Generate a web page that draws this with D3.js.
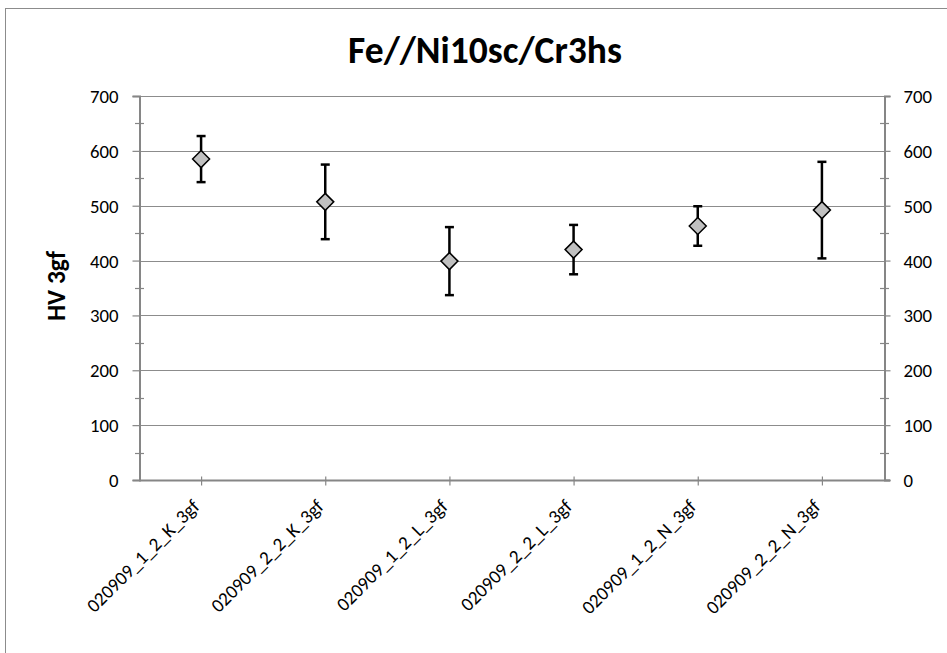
<!DOCTYPE html>
<html>
<head>
<meta charset="utf-8">
<script src="https://cdn.jsdelivr.net/npm/d3@7"></script>
<style>
  html, body { margin: 0; padding: 0; background: #fff; }
  svg { display: block; }
  text { font-family: Carlito, Calibri, Lato, "Open Sans", sans-serif; fill: #000; }
</style>
</head>
<body>
<svg id="chart" width="947" height="653"></svg>
<script>
// Hardness measurements (HV 3gf) per sample
const categories = [
  "020909_1_2_K_3gf", "020909_2_2_K_3gf", "020909_1_2_L_3gf",
  "020909_2_2_L_3gf", "020909_1_2_N_3gf", "020909_2_2_N_3gf"
];
const hardness = [585, 507, 399, 420, 463, 492];
const deviation = [42, 68, 62, 45, 36, 88];
const yTicks = [0, 100, 200, 300, 400, 500, 600, 700];
const title = "Fe//Ni10sc/Cr3hs";
const yTitle = "HV 3gf";

const svg = d3.select("#chart");
const plotL = 139, plotR = 884, plotT = 96, plotB = 480;

// font size at which a sample string spans the wanted length
function sizeFor(str, weight, len) {
  const probe = svg.append("text").attr("font-size", 20).attr("font-weight", weight).text(str);
  const w = probe.node().getComputedTextLength();
  probe.remove();
  return +(20 * len / w).toFixed(2);
}
const tickFont = sizeFor("700", "normal", 28.5);
const catFont = sizeFor("020909_2_2_K_3gf", "normal", 150);

// chart frame
svg.append("rect")
  .attr("x", 5.5).attr("y", 8.5).attr("width", 960).attr("height", 700)
  .attr("fill", "none").attr("stroke", "#8c8c8c").attr("stroke-width", 1);

const x = d3.scalePoint().domain(categories).range([plotL, plotR]).padding(0.5);
const y = d3.scaleLinear().domain([0, 700]).range([plotB, plotT]);

// horizontal gridlines
svg.append("g").selectAll("line").data(yTicks.filter(d => d > 0)).join("line")
  .attr("x1", plotL).attr("x2", plotR)
  .attr("y1", d => Math.round(y(d)) + 0.5).attr("y2", d => Math.round(y(d)) + 0.5)
  .attr("stroke", "#8c8c8c").attr("stroke-width", 1);

const axisColor = "#868686";

// left axis
const yl = svg.append("g").attr("transform", `translate(${plotL + 0.5},0)`)
  .call(d3.axisLeft(y).tickValues(yTicks).tickSize(7).tickPadding(14));
// right axis
const yr = svg.append("g").attr("transform", `translate(${plotR + 0.5},0)`)
  .call(d3.axisRight(y).tickValues(yTicks).tickSize(6).tickPadding(13));
[yl, yr].forEach(g => {
  g.attr("font-family", null);
  g.select(".domain").attr("stroke", axisColor).attr("stroke-width", 2);
  g.selectAll(".tick line").attr("stroke", axisColor).attr("stroke-width", 1.2);
  g.selectAll(".tick text").attr("font-size", tickFont).attr("dy", "0.35em");
});

// minor ticks at the half steps
const minor = d3.range(50, 700, 100);
[plotL, plotR].forEach(ax => {
  svg.append("g").selectAll("line").data(minor).join("line")
    .attr("x1", ax - 4).attr("x2", ax + 5)
    .attr("y1", d => Math.round(y(d)) + 0.5).attr("y2", d => Math.round(y(d)) + 0.5)
    .attr("stroke", axisColor).attr("stroke-width", 1.2);
});

// bottom axis
const xa = svg.append("g").attr("transform", `translate(0,${plotB + 0.5})`)
  .call(d3.axisBottom(x).tickSize(5).tickSizeOuter(0));
xa.attr("font-family", null);
xa.select(".domain").attr("stroke", axisColor).attr("stroke-width", 2)
  .attr("d", `M${plotL},0H${plotR + 6}`);
xa.selectAll(".tick line").attr("stroke", axisColor).attr("stroke-width", 1.2)
  .attr("y1", -4).attr("y2", 5);
xa.selectAll(".tick text")
  .attr("font-size", catFont)
  .attr("text-anchor", "end")
  .attr("dy", null).attr("y", 0)
  .attr("transform", "translate(-1,27) rotate(-45)");

// error bars
const bars = svg.append("g");
categories.forEach((c, i) => {
  const cx = x(c);
  const hi = y(hardness[i] + deviation[i]), lo = y(hardness[i] - deviation[i]);
  bars.append("line").attr("x1", cx).attr("x2", cx).attr("y1", hi).attr("y2", lo)
    .attr("stroke", "#000").attr("stroke-width", 2.5);
  [hi, lo].forEach(v => bars.append("line")
    .attr("x1", cx - 4.5).attr("x2", cx + 4.5).attr("y1", v).attr("y2", v)
    .attr("stroke", "#000").attr("stroke-width", 2.5));
});

// diamond markers
svg.append("g").selectAll("path").data(hardness).join("path")
  .attr("transform", (d, i) => `translate(${x(categories[i])},${y(d)})`)
  .attr("d", "M0,-8.5L8.5,0L0,8.5L-8.5,0Z")
  .attr("fill", "#c0c0c0").attr("stroke", "#000").attr("stroke-width", 1.5);

// titles
svg.append("text").attr("x", 485).attr("y", 63).attr("text-anchor", "middle")
  .attr("font-weight", "bold").attr("font-size", sizeFor(title, "bold", 274))
  .text(title);
svg.append("text").attr("transform", `translate(65,286) rotate(-90)`)
  .attr("text-anchor", "middle").attr("font-weight", "bold")
  .attr("font-size", sizeFor(yTitle, "bold", 70))
  .text(yTitle);
</script>
</body>
</html>
